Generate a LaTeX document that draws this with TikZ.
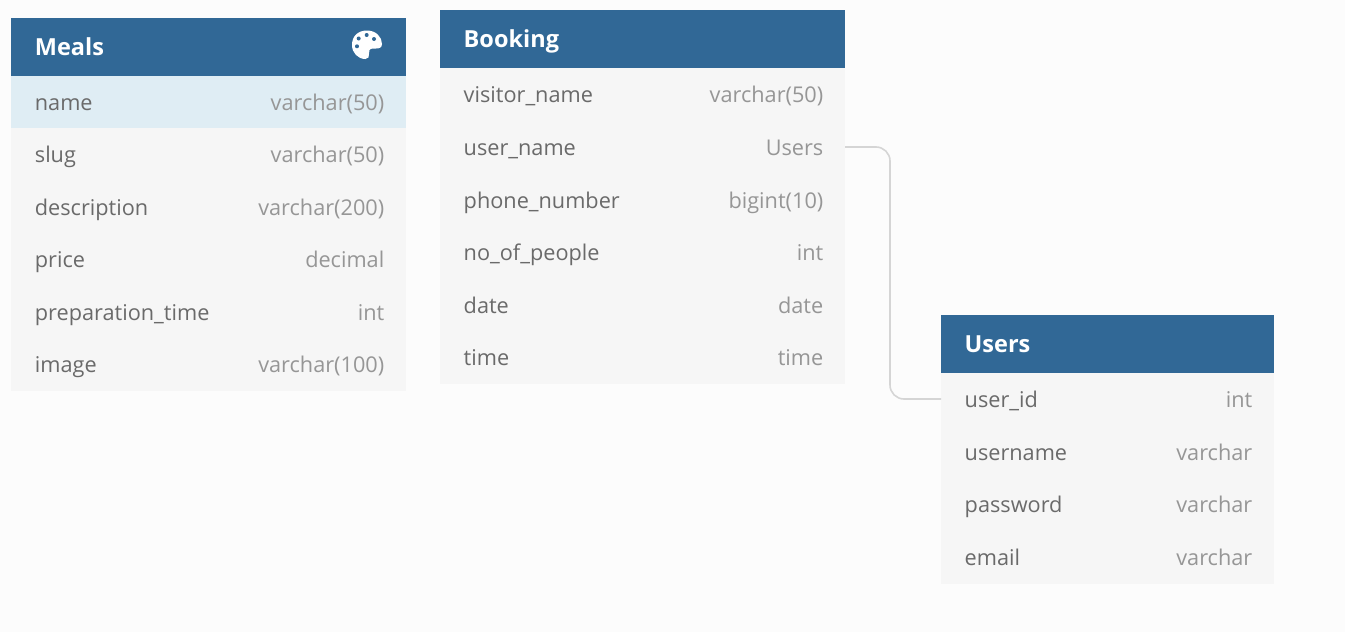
\documentclass[tikz,border=0pt]{standalone}
\usepackage{fontspec}
\setmainfont{Open Sans}
\definecolor{pagebg}{HTML}{FCFCFC}
\definecolor{headblue}{HTML}{316896}
\definecolor{rowgrey}{HTML}{F6F6F6}
\definecolor{rowhigh}{HTML}{DFEDF4}
\definecolor{fieldtxt}{HTML}{6A6A6A}
\definecolor{typetxt}{HTML}{969696}
\definecolor{linkgrey}{HTML}{D5D5D5}
\tikzset{
	headbox/.style={fill=headblue, draw=none, inner sep=0pt, outer sep=0pt},
	headtxt/.style={anchor=base west, inner sep=0pt, text=white, font=\fontsize{23.5}{28}\selectfont\bfseries},
	rowbox/.style={fill=rowgrey, draw=none, inner sep=0pt, outer sep=0pt},
	fieldname/.style={anchor=base west, inner sep=0pt, text=fieldtxt, font=\fontsize{21.7}{26}\selectfont},
	fieldtype/.style={anchor=base east, inner sep=0pt, text=typetxt, font=\fontsize{21.7}{26}\selectfont},
	linkline/.style={draw=linkgrey, line width=1.6pt, rounded corners=14pt}
}
% (node name)(left:centre y:width:height)(field:type)
\def\tablerow[#1](#2)(#3:#4:#5:#6)(#7:#8){
	\node[rowbox, #1, minimum width=#5pt, minimum height=#6pt] (#2) at ({#3+#5/2}, #4) {};
	\node[fieldname] (#2name) at ({#3+23.5}, {#4+8}) {#7};
	\node[fieldtype] (#2type) at ({#3+#5-21.5}, {#4+8}) {#8};
}
\def\tablehead(#1)(#2:#3:#4)(#5){
	\node[headbox, minimum width=#4pt, minimum height=57.5pt] (#1) at ({#2+#4/2}, {#3+28.75}) {};
	\node[headtxt] (#1txt) at ({#2+23.5}, {#3+37.5}) {#5};
}
\begin{document}
\begin{tikzpicture}[x=1pt, y=-1pt]
		%%%%% START %%%%%
		\fill[pagebg] (0, 0) rectangle (1345, 632);
		\useasboundingbox (0, 0) rectangle (1345, 632);

		% Meals
		\tablerow[](mealsSlug)(11.2:154.5:394.8:53)(slug:{varchar(50)})
		\tablerow[](mealsDesc)(11.2:207:394.8:53)(description:{varchar(200)})
		\tablerow[](mealsPrice)(11.2:259.5:394.8:53)(price:decimal)
		\tablerow[](mealsTime)(11.2:312:394.8:53)(preparation\_time:int)
		\tablerow[](mealsImage)(11.2:364.7:394.8:53)(image:{varchar(100)})
		\tablerow[fill=rowhigh](mealsName)(11.2:102:394.8:52)(name:{varchar(50)})
		\tablehead(meals)(11.2:18:394.8)(Meals)

		% palette icon
		\fill[white] (352, 45) .. controls (352, 36) and (358, 30.5) .. (367, 30.5)
			.. controls (376, 30.5) and (382, 37) .. (382, 44)
			.. controls (382, 47.5) and (379.5, 48.5) .. (376, 48.5)
			-- (373, 48.5) .. controls (369.5, 48.5) and (368.5, 51) .. (369, 53.5)
			.. controls (369.5, 56.5) and (368.5, 59) .. (365.5, 59)
			.. controls (358, 59) and (352, 53) .. (352, 45) -- cycle;
		\fill[headblue] (358.7, 38.5) circle (2);
		\fill[headblue] (366.7, 35) circle (2);
		\fill[headblue] (374, 39) circle (2);
		\fill[headblue] (357, 46.3) circle (2);

		% Booking
		\tablerow[](bookVisitor)(440:94:405:53)(visitor\_name:{varchar(50)})
		\tablerow[](bookUser)(440:147:405:53)(user\_name:Users)
		\tablerow[](bookPhone)(440:200:405:53)(phone\_number:{bigint(10)})
		\tablerow[](bookPeople)(440:252:405:53)(no\_of\_people:int)
		\tablerow[](bookDate)(440:305:405:53)(date:date)
		\tablerow[](bookTime)(440:357:405:53)(time:time)
		\tablehead(booking)(440:10.3:405)(Booking)

		% Users
		\tablerow[](usersId)(941:399:333:53)(user\_id:int)
		\tablerow[](usersName)(941:452:333:53)(username:varchar)
		\tablerow[](usersPass)(941:504.5:333:53)(password:varchar)
		\tablerow[](usersMail)(941:557:333:53)(email:varchar)
		\tablehead(users)(941:315:333)(Users)

		\coordinate (linkbend) at (890, 270);
		\draw[linkline] (bookUser.east) -- (linkbend |- bookUser.east) -- (linkbend |- usersId.west) -- (usersId.west);
		%%%%% END %%%%%
	\end{tikzpicture}
\end{document}
